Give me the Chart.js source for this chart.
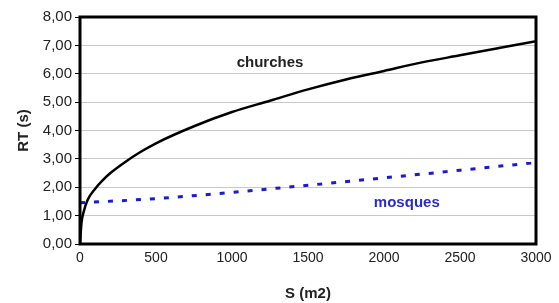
<!DOCTYPE html>
<html>
<head>
<meta charset="utf-8">
<script src="https://cdn.jsdelivr.net/npm/chart.js@4/dist/chart.umd.min.js"></script>
<style>
  html, body { margin: 0; padding: 0; background: #fff; }
  #wrap { width: 559px; height: 303px; }
</style>
</head>
<body>
<div id="wrap"><canvas id="chart"></canvas></div>
<script>
const churchS = [0, 10, 25, 50, 100, 150, 200, 300, 400, 500, 750, 1000, 1250, 1500, 1750, 2000, 2250, 2500, 2750, 3000]
const churchRT = [0, 0.75, 1.15, 1.55, 1.95, 2.25, 2.5, 2.9, 3.25, 3.55, 4.15, 4.65, 5.05, 5.45, 5.8, 6.1, 6.4, 6.65, 6.9, 7.15]
const mosqueS = [0, 500, 1000, 1500, 2000, 2500, 3000]
const mosqueRT = [1.45, 1.6, 1.82, 2.07, 2.33, 2.6, 2.87]
const xTicks = [0, 500, 1000, 1500, 2000, 2500, 3000]
const yTicks = [0, 1, 2, 3, 4, 5, 6, 7, 8]

const FONT = '"Liberation Sans", Arial, sans-serif'

const toPoints = (xs, ys) => xs.map((x, i) => ({ x, y: ys[i] }))

// thick black frame + series labels inside the plot
const framePlugin = {
    id: 'frame',
    afterDatasetsDraw(chart, args, opts) {
        const { ctx, chartArea: a, scales } = chart
        ctx.save()
        ctx.font = 'bold 15px ' + FONT
        ctx.textAlign = 'center'
        ctx.textBaseline = 'middle'
        opts.labels.forEach(l => {
            ctx.fillStyle = l.color
            ctx.fillText(l.text, scales.x.getPixelForValue(l.x), scales.y.getPixelForValue(l.y))
        })
        ctx.strokeStyle = '#000'
        ctx.lineWidth = 3
        ctx.strokeRect(a.left, a.top, a.right - a.left, a.bottom - a.top)
        ctx.restore()
    }
}

new Chart(document.getElementById('chart').getContext('2d'), {
    type: 'line',
    data: {
        datasets: [
            {
                label: 'churches',
                data: toPoints(churchS, churchRT),
                borderColor: '#000',
                borderWidth: 2.5,
                pointRadius: 0,
                tension: 0.4,
                cubicInterpolationMode: 'monotone'
            },
            {
                label: 'mosques',
                data: toPoints(mosqueS, mosqueRT),
                borderColor: '#1a1ad6',
                borderWidth: 3,
                borderDash: [5, 9],
                pointRadius: 0,
                tension: 0.4,
                cubicInterpolationMode: 'monotone'
            }
        ]
    },
    options: {
        responsive: true,
        maintainAspectRatio: false,
        animation: false,
        layout: { padding: { top: 17, right: 23, left: 15, bottom: 0 } },
        plugins: {
            legend: { display: false },
            tooltip: { enabled: false },
            frame: {
                labels: [
                    { text: 'churches', x: 1250, y: 6.4, color: '#222' },
                    { text: 'mosques', x: 2150, y: 1.44, color: '#2a2ac8' }
                ]
            }
        },
        scales: {
            x: {
                type: 'linear',
                min: 0,
                max: 3000,
                afterBuildTicks: s => { s.ticks = xTicks.map(v => ({ value: v })) },
                afterFit: s => { s.height = 59 },
                grid: { display: false, drawTicks: true, tickLength: 5, tickColor: '#000' },
                border: { display: false },
                ticks: { color: '#222', font: { family: FONT, size: 14 }, padding: 1, maxRotation: 0, callback: v => String(v) },
                title: { display: true, text: 'S (m2)', color: '#222', font: { family: FONT, size: 15, weight: 'bold' }, padding: { top: 0, bottom: 0 } }
            },
            y: {
                min: 0,
                max: 8,
                afterBuildTicks: s => { s.ticks = yTicks.map(v => ({ value: v })) },
                afterFit: s => { s.width = 65 },
                grid: { color: '#c8c8c8', lineWidth: 1, tickLength: 5, tickColor: '#000' },
                border: { display: false },
                ticks: {
                    color: '#222',
                    font: { family: FONT, size: 15 },
                    padding: 3,
                    callback: v => v.toFixed(2).replace('.', ',')
                },
                title: { display: true, text: 'RT (s)', color: '#222', font: { family: FONT, size: 15, weight: 'bold' }, padding: { top: 0, bottom: 0 } }
            }
        }
    },
    plugins: [framePlugin]
})
</script>
</body>
</html>
